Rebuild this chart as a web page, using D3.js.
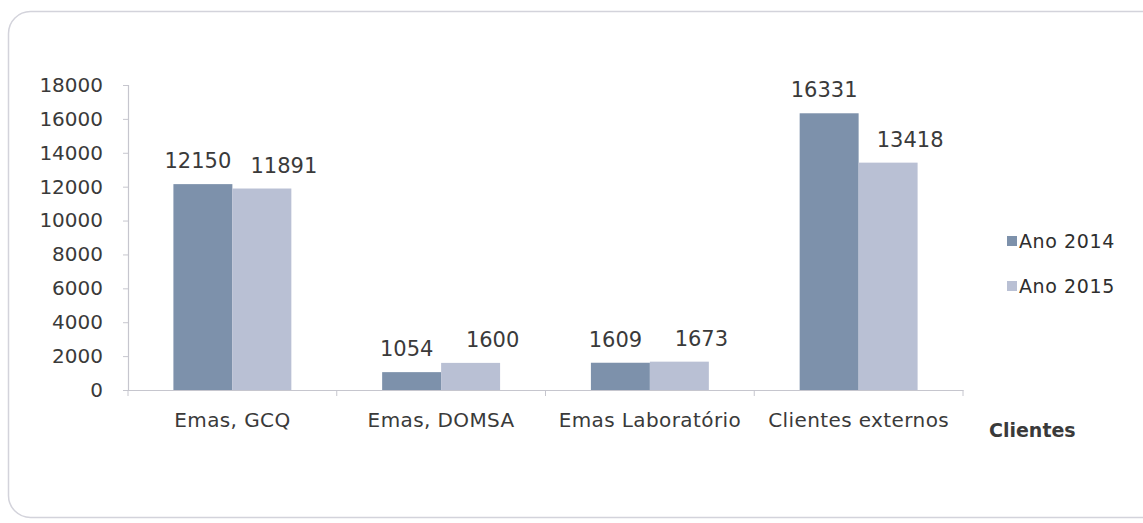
<!DOCTYPE html>
<html>
<head>
<meta charset="utf-8">
<script src="https://cdn.jsdelivr.net/npm/d3@7/dist/d3.min.js"></script>
<style>
  html, body { margin: 0; padding: 0; background: #ffffff; }
  svg { display: block; }
</style>
</head>
<body>
<svg id="chart" width="1143" height="523"></svg>
<script>
// ---- data ----
const categories = ["Emas, GCQ", "Emas, DOMSA", "Emas Laboratório", "Clientes externos"];
const seriesNames = ["Ano 2014", "Ano 2015"];
const values2014 = [12150, 1054, 1609, 16331];
const values2015 = [11891, 1600, 1673, 13418];
const yTicks = [0, 2000, 4000, 6000, 8000, 10000, 12000, 14000, 16000, 18000];
const axisTitle = "Clientes";

// ---- setup ----
const svg = d3.select("#chart");
const colors = d3.scaleOrdinal().domain(seriesNames).range(["#7d91ab", "#b9c0d4"]);
const labelShift = d3.scaleOrdinal().domain(seriesNames).range([-5, 22]);
const seriesValues = [values2014, values2015];
const FONT = "'DejaVu Sans', sans-serif";
const TEXT = "#3a3a3a";

// rounded frame (runs off the right edge)
svg.append("rect")
  .attr("x", 8.5).attr("y", 11.5)
  .attr("width", 1200).attr("height", 506)
  .attr("rx", 22).attr("ry", 22)
  .attr("fill", "none").attr("stroke", "#d3d3db").attr("stroke-width", 1.5);

const plot = { left: 128, right: 963, top: 85, bottom: 390 };

const x = d3.scaleBand().domain(categories).range([plot.left, plot.right]).paddingInner(0).paddingOuter(0);
const xs = d3.scaleBand().domain(seriesNames).range([0, x.bandwidth()]).paddingInner(0).paddingOuter(0.77);
const y = d3.scaleLinear().domain([0, 18000]).range([plot.bottom, plot.top]);

// bars + value labels
categories.forEach((c, i) => {
  seriesNames.forEach((s, j) => {
    const v = seriesValues[j][i];
    svg.append("rect")
      .attr("x", x(c) + xs(s))
      .attr("y", y(v))
      .attr("width", xs.bandwidth())
      .attr("height", y(0) - y(v))
      .attr("fill", colors(s));
    svg.append("text")
      .attr("x", x(c) + xs(s) + xs.bandwidth() / 2 + labelShift(s))
      .attr("y", y(v) - 16)
      .attr("text-anchor", "middle")
      .attr("font-family", FONT)
      .attr("font-size", 21)
      .attr("fill", TEXT)
      .text(v);
  });
});

// y axis
const yAxis = d3.axisLeft(y).tickValues(yTicks).tickSize(5).tickPadding(20).tickFormat(d3.format("d"));
const gy = svg.append("g").attr("transform", `translate(${plot.left},0)`).call(yAxis);
gy.select(".domain").attr("stroke", "#c6c6ce").attr("stroke-width", 1.2);
gy.selectAll(".tick line").attr("stroke", "#c6c6ce");
gy.selectAll(".tick text").attr("font-family", FONT).attr("font-size", 20).attr("fill", TEXT);

// x axis
const xAxis = d3.axisBottom(x).tickSize(0).tickPadding(23);
const gx = svg.append("g").attr("transform", `translate(0,${plot.bottom})`).call(xAxis);
gx.select(".domain").attr("stroke", "#c6c6ce").attr("stroke-width", 1.2);
gx.selectAll(".tick text").attr("font-family", FONT).attr("font-size", 20)
  .attr("letter-spacing", 0.4).attr("fill", TEXT);
// category boundary ticks
const bounds = categories.map(c => x(c)).concat([x.range()[1]]);
gx.selectAll(".bound").data(bounds).enter().append("line")
  .attr("x1", d => d).attr("x2", d => d)
  .attr("y1", 0).attr("y2", 6)
  .attr("stroke", "#c6c6ce");

// axis title
svg.append("text")
  .attr("x", 989).attr("y", 437)
  .attr("font-family", FONT).attr("font-size", 19).attr("font-weight", "bold")
  .attr("fill", TEXT)
  .text(axisTitle);

// legend
const legend = svg.append("g").attr("transform", "translate(1007,236)");
seriesNames.forEach((s, i) => {
  const g = legend.append("g").attr("transform", `translate(0,${i * 45})`);
  g.append("rect").attr("width", 10).attr("height", 10).attr("fill", colors(s));
  g.append("text").attr("x", 12).attr("y", 12)
    .attr("font-family", FONT).attr("font-size", 19).attr("letter-spacing", 0.6)
    .attr("fill", "#2e2e2e")
    .text(s);
});
</script>
</body>
</html>
